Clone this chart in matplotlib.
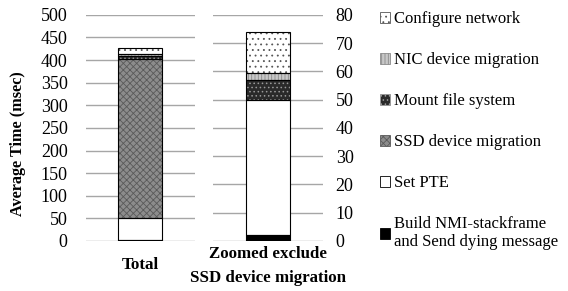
import numpy as np
import matplotlib.pyplot as plt
from matplotlib.patches import Patch

plt.rcParams['font.family'] = ['Liberation Serif', 'DejaVu Serif']
plt.rcParams['hatch.linewidth'] = 0.6

# stacked components, bottom to top (msec)
components = ['Build NMI-stackframe\nand Send dying message', 'Set PTE',
              'SSD device migration', 'Mount file system',
              'NIC device migration', 'Configure network']
values = [2.0, 48.0, 353.0, 7.0, 2.5, 14.5]
faces = ['black', 'white', '#8c8c8c', '#2a2a2a', '#c8c8c8', 'white']
hatch_cols = ['black', 'white', '#5a5a5a', '#9a9a9a', '#8a8a8a', '#555555']
hatches = [None, None, 'xxxxx', '....', '|||||', '...']

left_ticks = np.arange(0, 501, 50)
right_ticks = np.arange(0, 81, 10)

fig = plt.figure(figsize=(5.68, 2.91), dpi=100)
ax1 = fig.add_axes([0.151, 0.172, 0.192, 0.777])
ax2 = fig.add_axes([0.375, 0.172, 0.194, 0.777])


def stack(ax, skip):
    bottom = 0
    for i, v in enumerate(values):
        if i in skip:
            continue
        ax.bar(0, v, 0.4, bottom=bottom, color=faces[i], hatch=hatches[i],
               edgecolor=hatch_cols[i], linewidth=0, zorder=3)
        ax.bar(0, v, 0.4, bottom=bottom, fill=False, edgecolor='black',
               linewidth=0.8, zorder=4)
        bottom += v


stack(ax1, [])
stack(ax2, [2])

for ax in (ax1, ax2):
    ax.set_xlim(-0.5, 0.5)
    for s in ax.spines.values():
        s.set_visible(False)
    ax.grid(axis='y', color='#a6a6a6', linewidth=1, zorder=0)
    ax.tick_params(length=0, labelsize=13)
    ax.tick_params(axis='x', pad=17)

ax1.set_ylim(0, 500)
ax1.set_yticks(left_ticks)
ax1.tick_params(axis='y', pad=13)
ax1.set_xticks([0])
ax1.set_xticklabels(['Total'], fontweight='bold', fontsize=12.3, va='center')
ax1.set_ylabel('Average Time (msec)', fontweight='bold', fontsize=11.7, va='center')
ax1.yaxis.set_label_coords(-0.62, 0.43)

ax2.set_ylim(0, 80)
ax2.set_yticks(right_ticks)
ax2.yaxis.tick_right()
ax2.set_xticks([0])
ax2.set_xticklabels(['Zoomed exclude\nSSD device migration'], fontweight='bold',
                    fontsize=12.2, linespacing=1.7, va='center')
ax2.tick_params(axis='x', pad=18)
ax2.tick_params(axis='y', pad=9)

handles = []
for i in range(len(values) - 1, -1, -1):
    handles.append(Patch(facecolor=faces[i], hatch=hatches[i], edgecolor=hatch_cols[i] if hatches[i] else 'black',
                         linewidth=0.6, label=components[i]))
leg = fig.legend(handles=handles, loc='upper left', bbox_to_anchor=(0.643, 1.013),
                 frameon=False, fontsize=12, labelspacing=1.5, handlelength=0.6,
                 handleheight=0.6, handletextpad=0.2)
for t in leg.get_texts():
    t.set_linespacing(1.15)

fig.savefig('out.png', dpi=100)
